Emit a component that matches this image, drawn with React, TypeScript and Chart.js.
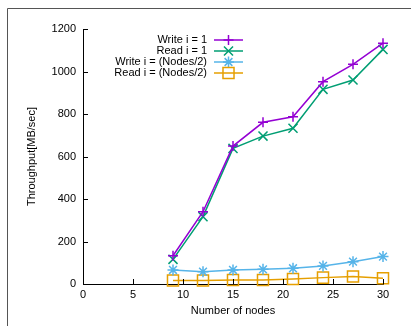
import { useEffect, useRef } from 'react';
import { Chart, registerables } from 'chart.js';

Chart.register(...registerables);

const nodes = [9, 12, 15, 18, 21, 24, 27, 30];
const writeI1 = [133, 340, 649, 761, 787, 952, 1034, 1133];
const readI1 = [116, 317, 638, 696, 733, 916, 960, 1104];
const writeHalf = [66, 58, 66, 69, 74, 85, 105, 129];
const readHalf = [16, 16, 19, 19, 24, 30, 35, 27];
const seriesLabels = ['Write i = 1', 'Read i = 1', 'Write i = (Nodes/2)', 'Read i = (Nodes/2)'];
const seriesColors = ['#9400d3', '#009e73', '#56b4e9', '#e69f00'];
const seriesPoints = ['cross', 'crossRot', 'star', 'rect'];
const seriesRadius = [5, 6.4, 5.5, 7.8];
const xAxisTitle = 'Number of nodes';
const yAxisTitle = 'Throughput[MB/sec]';

const FONT = '"Liberation Sans", Arial, sans-serif';

function drawMarker(ctx: CanvasRenderingContext2D, style: string, x: number, y: number, r: number) {
  ctx.beginPath();
  const d = Math.SQRT1_2 * r;
  if (style === 'cross' || style === 'star') {
    ctx.moveTo(x - r, y); ctx.lineTo(x + r, y);
    ctx.moveTo(x, y - r); ctx.lineTo(x, y + r);
  }
  if (style === 'crossRot' || style === 'star') {
    ctx.moveTo(x - d, y - d); ctx.lineTo(x + d, y + d);
    ctx.moveTo(x - d, y + d); ctx.lineTo(x + d, y - d);
  }
  if (style === 'rect') {
    ctx.rect(x - d, y - d, 2 * d, 2 * d);
  }
  ctx.stroke();
}

const framePlugin = {
  id: 'frame',
  beforeDraw(chart: any) {
    const ctx = chart.ctx;
    ctx.save();
    ctx.strokeStyle = '#555';
    ctx.lineWidth = 1;
    ctx.beginPath();
    ctx.moveTo(7.5, chart.height);
    ctx.lineTo(7.5, 8.5);
    ctx.lineTo(chart.width, 8.5);
    ctx.stroke();
    ctx.restore();
  },
  afterDraw(chart: any) {
    const ctx = chart.ctx;
    const xs = chart.scales.x;
    const ys = chart.scales.y;
    const { left, bottom } = chart.chartArea;
    ctx.save();
    ctx.strokeStyle = '#000';
    ctx.lineWidth = 1;
    ctx.beginPath();
    ys.ticks.forEach((t: any) => {
      const py = Math.round(ys.getPixelForValue(t.value)) + 0.5;
      ctx.moveTo(left, py);
      ctx.lineTo(left + 5, py);
    });
    xs.ticks.forEach((t: any) => {
      const px = Math.round(xs.getPixelForValue(t.value)) + 0.5;
      ctx.moveTo(px, bottom);
      ctx.lineTo(px, bottom - 5);
    });
    ctx.stroke();

    // legend
    ctx.font = `11px ${FONT}`;
    ctx.textAlign = 'right';
    ctx.textBaseline = 'middle';
    chart.data.datasets.forEach((ds: any, i: number) => {
      const y = 40 + i * 11;
      ctx.fillStyle = '#000';
      ctx.fillText(ds.label, 207, y);
      ctx.strokeStyle = ds.borderColor;
      ctx.lineWidth = 1.5;
      ctx.beginPath();
      ctx.moveTo(214, y);
      ctx.lineTo(243, y);
      ctx.stroke();
      drawMarker(ctx, ds.pointStyle, 228.5, y, ds.pointRadius);
    });
    ctx.restore();
  },
};

export default function App() {
  const ref = useRef<HTMLCanvasElement>(null);
  useEffect(() => {
    if (!ref.current) return;
    const all = [writeI1, readI1, writeHalf, readHalf];
    const chart = new Chart(ref.current, {
      type: 'line',
      data: {
        datasets: all.map((vals, i) => ({
          label: seriesLabels[i],
          data: nodes.map((n, j) => ({ x: n, y: vals[j] })),
          borderColor: seriesColors[i],
          backgroundColor: 'transparent',
          borderWidth: 1.5,
          pointStyle: seriesPoints[i] as any,
          pointRadius: seriesRadius[i],
          pointBorderColor: seriesColors[i],
          pointBackgroundColor: 'transparent',
          pointBorderWidth: 1.5,
          tension: 0,
          clip: false as any,
        })),
      },
      options: {
        animation: false,
        responsive: false,
        events: [],
        layout: { padding: { left: 0, top: 29, right: 28, bottom: 0 } },
        plugins: { legend: { display: false }, tooltip: { enabled: false } },
        scales: {
          x: {
            type: 'linear',
            min: 0,
            max: 30,
            ticks: { stepSize: 5, color: '#000', font: { family: FONT, size: 11 }, padding: 4, maxRotation: 0, callback: (v: any) => String(v) },
            grid: { display: false, drawTicks: false },
            border: { display: true, color: '#000', width: 1 },
            title: { display: true, text: xAxisTitle, color: '#000', font: { family: FONT, size: 11 }, padding: { top: 0, bottom: 8.5 } },
            afterFit: (s: any) => { s.height = 42; },
          },
          y: {
            type: 'linear',
            min: 0,
            max: 1200,
            ticks: { stepSize: 200, color: '#000', font: { family: FONT, size: 11 }, padding: 7, callback: (v: any) => String(v) },
            grid: { display: false, drawTicks: false },
            border: { display: true, color: '#000', width: 1 },
            title: { display: true, text: yAxisTitle, color: '#000', font: { family: FONT, size: 11 }, padding: { top: 25, bottom: 0 } },
            afterFit: (s: any) => { s.width = 83; },
          },
        },
      },
      plugins: [framePlugin],
    });
    return () => chart.destroy();
  }, []);
  return (
    <div style={{ position: 'fixed', left: 0, top: 0, width: 411, height: 326, background: '#fff' }}>
      <canvas ref={ref} width={411} height={326} style={{ display: 'block', width: 411, height: 326 }} />
    </div>
  );
}
